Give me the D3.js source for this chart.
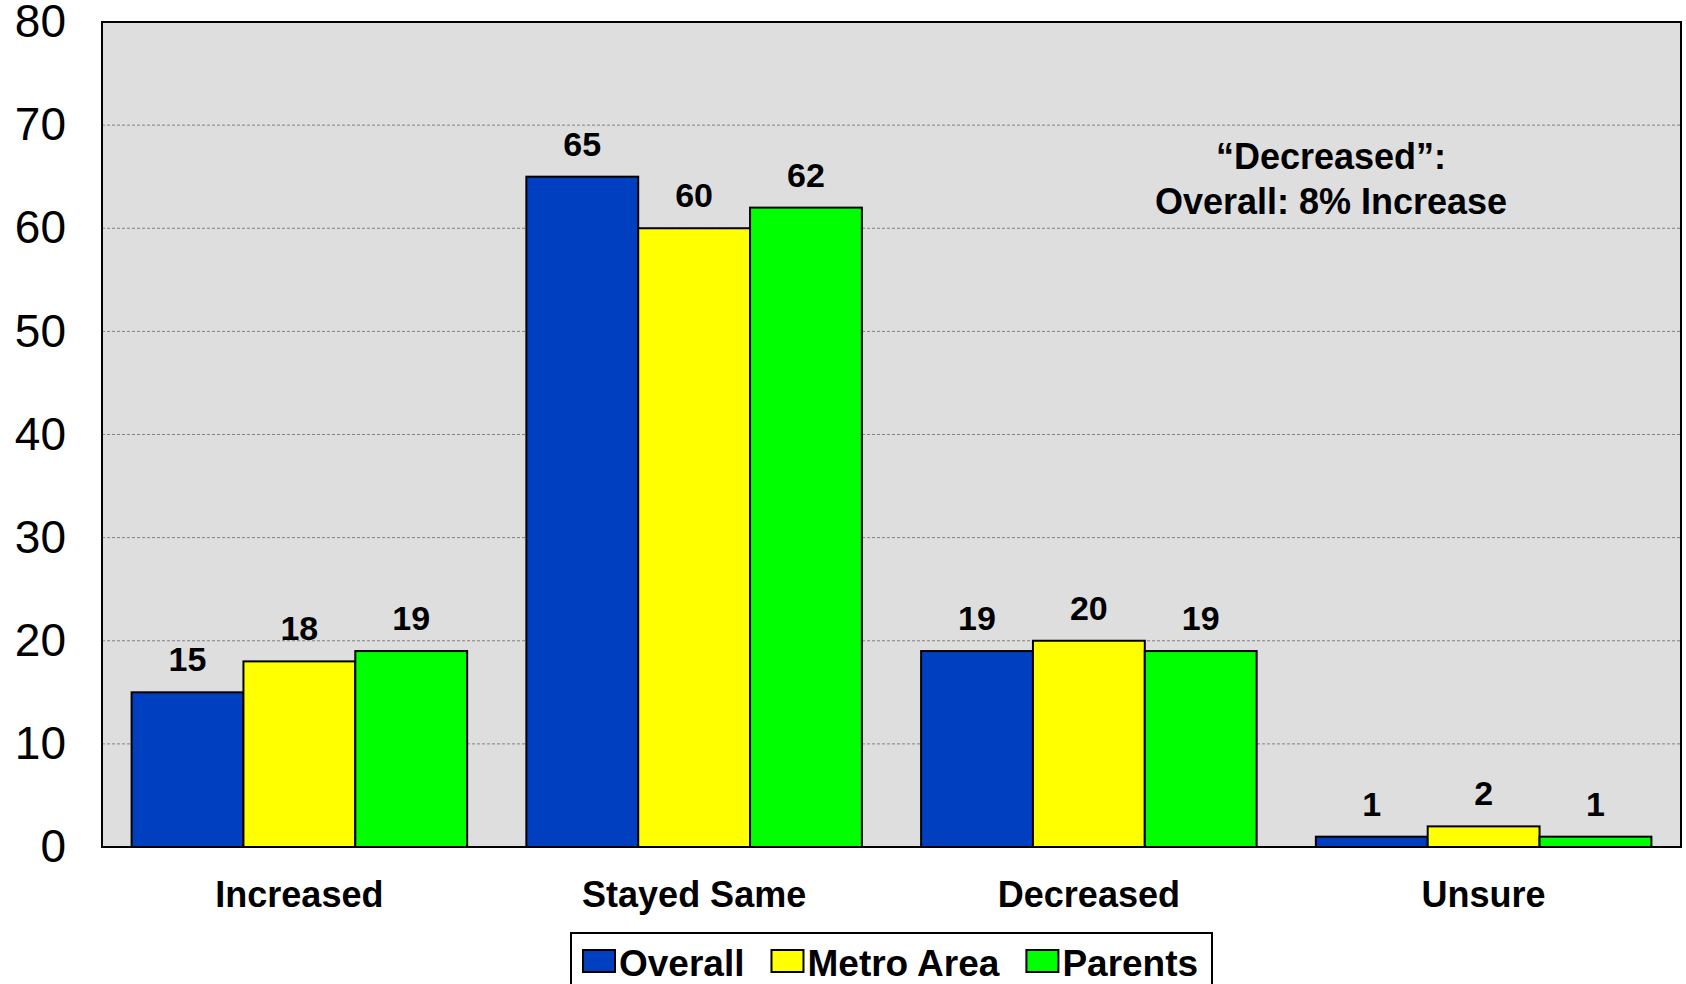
<!DOCTYPE html>
<html>
<head>
<meta charset="utf-8">
<script src="https://cdn.jsdelivr.net/npm/d3@7"></script>
<style>
  html, body { margin: 0; padding: 0; background: #ffffff; overflow: hidden; }
  svg { display: block; font-family: Arial, "Liberation Sans", Helvetica, sans-serif; }
</style>
</head>
<body>
<svg id="chart" width="1686" height="984"></svg>
<script>
const categories = ["Increased", "Stayed Same", "Decreased", "Unsure"];
const seriesNames = ["Overall", "Metro Area", "Parents"];
const overall   = [15, 65, 19, 1];
const metroArea = [18, 60, 20, 2];
const parents   = [19, 62, 19, 1];
const yTicks = [0, 10, 20, 30, 40, 50, 60, 70, 80];
const seriesColors = ["#0040C0", "#FFFF00", "#00FF00"];
const annotationLines = ["\u201CDecreased\u201D:", "Overall: 8% Increase"];

(function () {
const seriesValues = [overall, metroArea, parents];
const rows = categories.map((c, i) => ({
  category: c,
  values: seriesNames.map((s, j) => ({ series: s, value: seriesValues[j][i], idx: j }))
}));

const svg = d3.select("#chart");
const pLeft = 102, pRight = 1681, pTop = 22, pBottom = 847;

const x0 = d3.scaleBand().domain(categories).range([pLeft, pRight])
  .paddingInner(0.15).paddingOuter(0.075);
const x1 = d3.scaleBand().domain(seriesNames).range([0, x0.bandwidth()]).padding(0);
const y = d3.scaleLinear().domain([0, 80]).range([pBottom, pTop]);
const color = d3.scaleOrdinal().domain(seriesNames).range(seriesColors);

// plot background
svg.append("rect").attr("x", pLeft).attr("y", pTop)
  .attr("width", pRight - pLeft).attr("height", pBottom - pTop)
  .attr("fill", "#DEDEDE");

// gridlines
svg.append("g").selectAll("line")
  .data(yTicks.filter(t => t > 0 && t < 80))
  .join("line")
  .attr("x1", pLeft).attr("x2", pRight)
  .attr("y1", d => y(d)).attr("y2", d => y(d))
  .attr("stroke", "#808080").attr("stroke-width", 1)
  .attr("stroke-dasharray", "3,2");

// y axis labels
const yAxis = d3.axisLeft(y).tickValues(yTicks).tickSize(0).tickPadding(36);
const yg = svg.append("g").attr("transform", `translate(${pLeft},0)`).call(yAxis);
yg.select(".domain").remove();
yg.selectAll("text").attr("font-size", 46).attr("fill", "#000")
  .attr("font-family", "Arial, 'Liberation Sans', sans-serif");

// bars
const groups = svg.append("g").selectAll("g").data(rows).join("g")
  .attr("transform", d => `translate(${x0(d.category)},0)`);

groups.selectAll("rect").data(d => d.values).join("rect")
  .attr("x", d => x1(d.series))
  .attr("y", d => y(d.value))
  .attr("width", x1.bandwidth())
  .attr("height", d => y(0) - y(d.value))
  .attr("fill", d => color(d.series))
  .attr("stroke", "#000").attr("stroke-width", 2);

groups.selectAll("text").data(d => d.values).join("text")
  .attr("x", d => x1(d.series) + x1.bandwidth() / 2)
  .attr("y", d => y(d.value) - 21)
  .attr("text-anchor", "middle")
  .attr("font-size", 34).attr("font-weight", "bold").attr("fill", "#000")
  .text(d => d.value);

// plot border
svg.append("rect").attr("x", pLeft).attr("y", pTop)
  .attr("width", pRight - pLeft).attr("height", pBottom - pTop)
  .attr("fill", "none").attr("stroke", "#000").attr("stroke-width", 2);

// x axis labels
const xAxis = d3.axisBottom(x0).tickSize(0).tickPadding(33);
const xg = svg.append("g").attr("transform", `translate(0,${pBottom})`).call(xAxis);
xg.select(".domain").remove();
xg.selectAll("text").attr("font-size", 36).attr("font-weight", "bold").attr("fill", "#000")
  .attr("font-family", "Arial, 'Liberation Sans', sans-serif")
  .attr("dy", null).attr("y", 60);

// annotation
svg.append("g").selectAll("text").data(annotationLines).join("text")
  .attr("x", 1331).attr("y", (d, i) => 169 + i * 45)
  .attr("text-anchor", "middle")
  .attr("font-size", 36).attr("font-weight", "bold").attr("fill", "#000")
  .text(d => d);

// legend
const legend = svg.append("g");
legend.append("rect").attr("x", 571).attr("y", 933)
  .attr("width", 641).attr("height", 70)
  .attr("fill", "#fff").attr("stroke", "#000").attr("stroke-width", 2);
let lx = 583;
seriesNames.forEach((s, i) => {
  legend.append("rect").attr("x", lx).attr("y", 950).attr("width", 32).attr("height", 22)
    .attr("fill", color(s)).attr("stroke", "#000").attr("stroke-width", 2);
  const t = legend.append("text").attr("x", lx + 36).attr("y", 976)
    .attr("font-size", 37).attr("font-weight", "bold").attr("fill", "#000").text(s);
  lx = lx + 36 + t.node().getComputedTextLength() + 27;
});
})();
</script>
</body>
</html>
